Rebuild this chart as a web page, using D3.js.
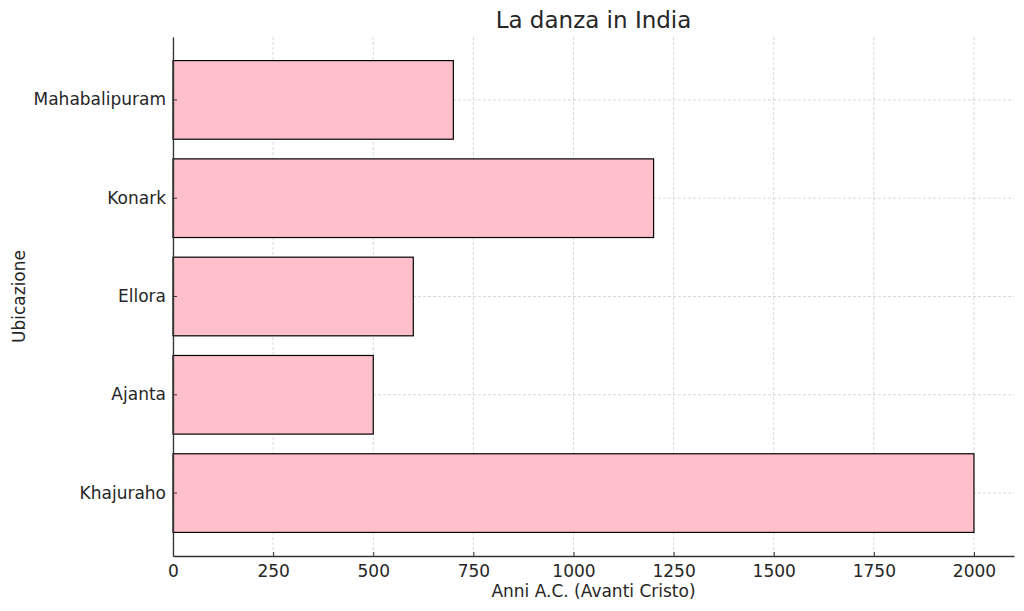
<!DOCTYPE html>
<html>
<head>
<meta charset="utf-8">
<script src="https://cdn.jsdelivr.net/npm/d3@7"></script>
<style>
  body { margin: 0; background: #fff; }
  svg text { font-family: "DejaVu Sans", sans-serif; fill: #262626; }
</style>
</head>
<body>
<div id="chart"></div>
<script>
// Dati
const luoghi = ["Khajuraho", "Ajanta", "Ellora", "Konark", "Mahabalipuram"];
const anni = [2000, 500, 600, 1200, 700];
const xTicks = [0, 250, 500, 750, 1000, 1250, 1500, 1750, 2000];

const data = luoghi.map((l, i) => ({ luogo: l, anni: anni[i] }));

const margin = { top: 37, right: 10, bottom: 55, left: 173 },
      width = 1024 - margin.left - margin.right,
      height = 611 - margin.top - margin.bottom;

const svg = d3.select("#chart").append("svg")
  .attr("width", 1024)
  .attr("height", 611);

const g = svg.append("g")
  .attr("transform", `translate(${margin.left},${margin.top})`);

const x = d3.scaleLinear()
  .domain([0, 2100])
  .range([0, width]);

// ordine dal basso verso l'alto come in matplotlib
const y = d3.scaleBand()
  .domain(luoghi.slice().reverse())
  .range([0, height])
  .paddingInner(0.2)
  .paddingOuter(0.24);

// Griglia
g.append("g")
  .selectAll("line.vg")
  .data(xTicks)
  .enter().append("line")
    .attr("x1", d => x(d)).attr("x2", d => x(d))
    .attr("y1", 0).attr("y2", height)
    .attr("stroke", "#cfcfcf")
    .attr("stroke-width", 0.8)
    .attr("stroke-dasharray", "3,2");
g.append("g")
  .selectAll("line.hg")
  .data(luoghi)
  .enter().append("line")
    .attr("x1", 0).attr("x2", width)
    .attr("y1", d => y(d) + y.bandwidth() / 2)
    .attr("y2", d => y(d) + y.bandwidth() / 2)
    .attr("stroke", "#cfcfcf")
    .attr("stroke-width", 0.8)
    .attr("stroke-dasharray", "3,2");

// Barre
g.selectAll("rect.bar")
  .data(data)
  .enter().append("rect")
    .attr("class", "bar")
    .attr("x", x(0))
    .attr("y", d => y(d.luogo))
    .attr("width", d => x(d.anni) - x(0))
    .attr("height", y.bandwidth())
    .attr("fill", "#ffc0cb")
    .attr("stroke", "#000")
    .attr("stroke-width", 1.2);

// Assi
const xAxis = g.append("g")
  .attr("transform", `translate(0,${height})`)
  .call(d3.axisBottom(x).tickValues(xTicks).tickFormat(d3.format("d"))
    .tickSizeInner(-4).tickSizeOuter(0).tickPadding(9));
const yAxis = g.append("g")
  .call(d3.axisLeft(y).tickSizeInner(-4).tickSizeOuter(0).tickPadding(7));

[xAxis, yAxis].forEach(a => {
  a.select(".domain").attr("stroke", "#333").attr("stroke-width", 1.3);
  a.selectAll(".tick line").attr("stroke", "#333");
  a.selectAll(".tick text").style("font-size", "17px").attr("fill", "#262626");
});

// Titoli
svg.append("text")
  .attr("x", margin.left + width / 2)
  .attr("y", 28)
  .attr("text-anchor", "middle")
  .style("font-size", "23px")
  .attr("fill", "#333")
  .text("La danza in India");

svg.append("text")
  .attr("x", margin.left + width / 2)
  .attr("y", 597)
  .attr("text-anchor", "middle")
  .style("font-size", "17px")
  .text("Anni A.C. (Avanti Cristo)");

svg.append("text")
  .attr("transform", `translate(25,${margin.top + height / 2}) rotate(-90)`)
  .attr("text-anchor", "middle")
  .style("font-size", "17px")
  .text("Ubicazione");
</script>
</body>
</html>
